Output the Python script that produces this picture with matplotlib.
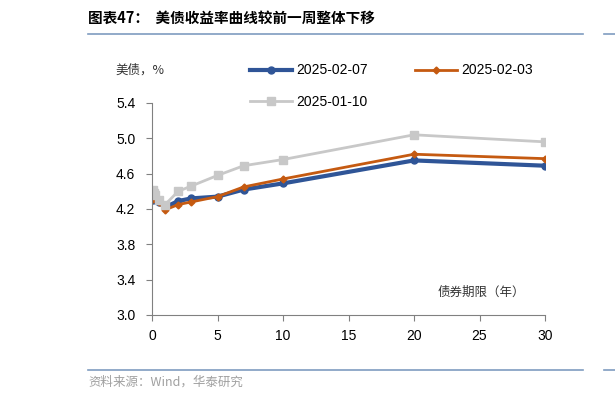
import matplotlib
matplotlib.use("Agg")
import matplotlib.pyplot as plt
from matplotlib.lines import Line2D

plt.rcParams['font.family'] = ['Liberation Sans', 'Noto Sans CJK SC', 'DejaVu Sans']

# maturities in years
tenor = [1/12, 2/12, 3/12, 6/12, 1, 2, 3, 5, 7, 10, 20, 30]
y_0207 = [4.30, 4.31, 4.32, 4.28, 4.22, 4.29, 4.32, 4.34, 4.42, 4.49, 4.75, 4.69]
y_0203 = [4.31, 4.32, 4.33, 4.28, 4.19, 4.25, 4.28, 4.34, 4.45, 4.54, 4.82, 4.77]
y_0110 = [4.42, 4.38, 4.36, 4.30, 4.25, 4.40, 4.46, 4.58, 4.69, 4.76, 5.04, 4.96]
labels = ['2025-02-07', '2025-02-03', '2025-01-10']

fig = plt.figure(figsize=(6.15, 4.0), dpi=100)
ax = fig.add_axes([152/615, 0.2125, 393/615, 0.530])

l1, = ax.plot(tenor, y_0207, color='#2f5597', lw=3, marker='o', ms=5, label=labels[0])
l2, = ax.plot(tenor, y_0203, color='#c55a11', lw=2, marker='D', ms=3.5, label=labels[1])
l3, = ax.plot(tenor, y_0110, color='#c8c8c8', lw=2, marker='s', ms=5.5, label=labels[2])

ax.set_xlim(0, 30)
ax.set_ylim(3.0, 5.4)
ax.set_xticks([0, 5, 10, 15, 20, 25, 30])
ax.set_yticks([3.0, 3.4, 3.8, 4.2, 4.6, 5.0, 5.4])
ax.set_yticklabels(['%.1f' % v for v in [3.0, 3.4, 3.8, 4.2, 4.6, 5.0, 5.4]])
for s in ['top', 'right']:
    ax.spines[s].set_visible(False)
for s in ['left', 'bottom']:
    ax.spines[s].set_color('#808080')
ax.tick_params(axis='both', colors='#808080', labelcolor='black', labelsize=10, length=4, direction='out')
ax.tick_params(axis='x', pad=6)
ax.tick_params(axis='y', pad=8)

ax.text(0.95, 0.108, '债券期限（年）', transform=ax.transAxes, ha='right', va='center',
        fontsize=9, family=['Noto Sans CJK SC'], color='#333333')
fig.text(115/615, 1-70/400, '美债，%', ha='left', va='center', fontsize=9,
         family=['Noto Sans CJK SC'], color='#333333')

# row order: blue, orange / gray
ax.legend([l1, l3, l2], [labels[0], labels[2], labels[1]], loc='upper left',
          bbox_to_anchor=(238/615, 1-51/400), bbox_transform=fig.transFigure,
          ncol=2, frameon=False, fontsize=10, handlelength=3, columnspacing=3.4,
          labelspacing=1.25, handletextpad=0.3)

fig.text(88/615, 1-18/400, '图表47：  美债收益率曲线较前一周整体下移', ha='left', va='center',
         fontsize=10.5, fontweight='bold', family=['Noto Sans CJK SC'])
fig.add_artist(Line2D([88/615, 583/615], [1-34/400, 1-34/400], color='#7f9cc0', lw=1.2))
fig.add_artist(Line2D([604/615, 1.0], [1-34/400, 1-34/400], color='#7f9cc0', lw=1.2))
fig.add_artist(Line2D([88/615, 583/615], [1-370/400, 1-370/400], color='#7f9cc0', lw=1.2))
fig.add_artist(Line2D([604/615, 1.0], [1-370/400, 1-370/400], color='#7f9cc0', lw=1.2))
fig.text(88/615, 1-382/400, '资料来源：Wind，华泰研究', ha='left', va='center', fontsize=9,
         family=['Noto Sans CJK SC'], color='#a0a0a0')

fig.savefig('out.png', dpi=100)
